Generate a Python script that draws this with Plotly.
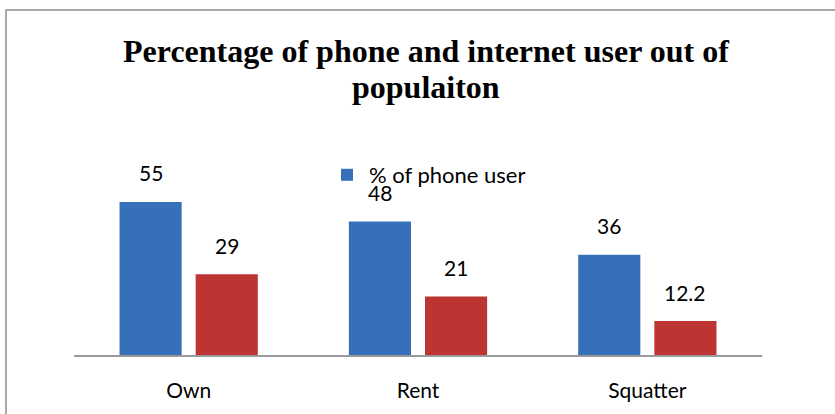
import plotly.graph_objects as go

categories = ["Own", "Rent", "Squatter"]
phone_users = [55, 48, 36]
internet_users = [29, 21, 12.2]
phone_labels = ["55", "48", "36"]
internet_labels = ["29", "21", "12.2"]
title_lines = ["Percentage of phone and internet user out of", "populaiton"]

BLUE = "#3570B9"
RED = "#BC3533"

fig = go.Figure()
fig.add_trace(go.Bar(x=categories, y=phone_users, name="% of phone user",
                     marker=dict(color=BLUE, line=dict(width=0))))
fig.add_trace(go.Bar(x=categories, y=internet_users, name="% of internet user",
                     marker=dict(color=RED, line=dict(width=0)), showlegend=False))

# value labels above each bar
for cat, v, t in zip(categories, phone_users, phone_labels):
    fig.add_annotation(x=cat, y=v, text=t, showarrow=False, xshift=-38, yshift=29,
                       font=dict(family="Lato", size=21, color="#000000"))
for cat, v, t in zip(categories, internet_users, internet_labels):
    fig.add_annotation(x=cat, y=v, text=t, showarrow=False, xshift=38, yshift=29,
                       font=dict(family="Lato", size=21, color="#000000"))

# two-line bold serif title
for line, ypos in zip(title_lines, [1.82, 1.605]):
    fig.add_annotation(xref="paper", yref="paper", x=0.512, y=ypos, yanchor="middle",
                       text="<b>" + line + "</b>", showarrow=False,
                       font=dict(family="Liberation Serif", size=32, color="#000000"))

# chart frame
fig.add_shape(type="rect", xref="paper", yref="paper", x0=-0.0988, y0=-0.5,
              x1=1.2, y1=2.066, line=dict(color="#8C8C8C", width=1.5),
              fillcolor="rgba(0,0,0,0)", layer="below")

fig.update_layout(
    width=835, height=414,
    margin=dict(l=74, r=73, t=188, b=59),
    paper_bgcolor="white", plot_bgcolor="white",
    barmode="group", bargap=0.336, bargroupgap=0.184,
    showlegend=True,
    legend=dict(x=(325 - 74) / 688, y=1.078, xanchor="left", yanchor="middle",
                itemwidth=34,
                font=dict(family="Lato", size=22, color="#000000"),
                bgcolor="rgba(0,0,0,0)"),
    xaxis=dict(showline=True, linecolor="#9A9A9A", linewidth=2, ticks="",
               showgrid=False, ticklabelstandoff=16, automargin=False,
               tickfont=dict(family="Lato", size=21, color="#000000")),
    yaxis=dict(range=[0, 60], visible=False, showgrid=False, zeroline=False,
               automargin=False),
)

fig.write_html("out.html")
